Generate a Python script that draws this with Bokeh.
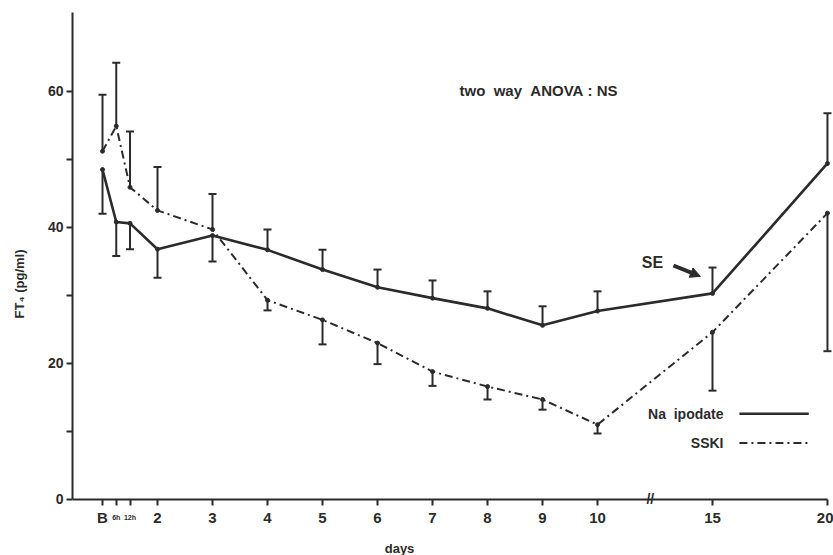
from bokeh.plotting import figure
from bokeh.models import FixedTicker, Label, Arrow, NormalHead, Range1d
from bokeh.embed import file_html
from bokeh.resources import INLINE

# ---- data ----
day_labels = ["B", "6h", "12h", "2", "3", "4", "5", "6", "7", "8", "9", "10", "15", "20"]
day_values = [1, 1.25, 1.5, 2, 3, 4, 5, 6, 7, 8, 9, 10, 15, 20]

na_mean = [48.5, 40.8, 40.6, 36.8, 38.8, 36.7, 33.8, 31.2, 29.6, 28.1, 25.6, 27.7, 30.3, 49.4]
na_se = [6.5, 5.0, 3.8, 4.2, 3.8, 3.0, 2.9, 2.6, 2.6, 2.5, 2.8, 2.9, 3.8, 7.4]
na_dir = [-1, -1, -1, -1, -1, 1, 1, 1, 1, 1, 1, 1, 1, 1]

sski_mean = [51.2, 54.9, 45.9, 42.5, 39.7, 29.3, 26.4, 23.0, 18.8, 16.6, 14.7, 11.0, 24.6, 42.1]
sski_se = [8.3, 9.3, 8.2, 6.4, 5.2, 1.5, 3.6, 3.1, 2.1, 1.9, 1.5, 1.3, 8.6, 20.3]
sski_dir = [1, 1, 1, 1, 1, -1, -1, -1, -1, -1, -1, -1, -1, -1]

y_ticks = [0, 20, 40, 60]
y_minor = [10, 30, 50]
small_labels = ["6h", "12h"]

# broken axis: days after 10 are compressed
BREAK = 10
COMPRESS = 0.418


def xpos(d):
    return d if d <= BREAK else round(BREAK + (d - BREAK) * COMPRESS, 3)


x = [xpos(d) for d in day_values]

INK = "#2b2b2b"
FONT = "Liberation Sans"

Y_TOP = 71.6
Y_BOTTOM = -8.24
X_START = 0.4545
X_END = 14.29

p = figure(width=833, height=555, output_backend="svg", toolbar_location=None,
           x_range=Range1d(X_START, X_END), y_range=Range1d(Y_BOTTOM, Y_TOP),
           min_border_left=72, min_border_right=0, min_border_top=12,
           min_border_bottom=0)
p.outline_line_color = None
p.grid.visible = False

# lines
p.line(x, na_mean, line_color=INK, line_width=2.6)
p.line(x, sski_mean, line_color=INK, line_width=2, line_dash="8 4 2 4")

# error bars (one-sided)
for mean, se, dr in ((na_mean, na_se, na_dir), (sski_mean, sski_se, sski_dir)):
    ends = [m + d * s for m, s, d in zip(mean, se, dr)]
    p.segment(x0=x, y0=mean, x1=x, y1=ends, line_color=INK, line_width=2)
    p.scatter(x, ends, marker="dash", size=8, line_color=INK, line_width=2)
    p.scatter(x, mean, size=4, color=INK)

# axes
p.xaxis.fixed_location = 0
p.xaxis.bounds = (X_START, x[-1])
p.yaxis.bounds = (0, Y_TOP)
p.xaxis.ticker = FixedTicker(ticks=x)
p.xaxis.major_label_overrides = {xv: ("" if lab in small_labels else lab)
                                 for xv, lab in zip(x, day_labels)}
p.yaxis.ticker = FixedTicker(ticks=y_ticks, minor_ticks=y_minor)

for ax in (p.xaxis, p.yaxis):
    ax.axis_line_color = INK
    ax.axis_line_width = 2
    ax.major_tick_line_color = INK
    ax.major_tick_line_width = 2
    ax.major_tick_out = 6
    ax.major_tick_in = 0
    ax.minor_tick_line_color = INK
    ax.minor_tick_line_width = 2
    ax.minor_tick_out = 6
    ax.minor_tick_in = 0
    ax.major_label_text_font = FONT
    ax.major_label_text_font_style = "bold"
    ax.major_label_text_color = INK
    ax.axis_label_text_font = FONT
    ax.axis_label_text_font_style = "bold"
    ax.axis_label_text_color = INK

p.xaxis.major_label_text_font_size = "15px"
p.xaxis.major_label_standoff = 4

p.yaxis.major_label_text_font_size = "14px"
p.yaxis.major_label_standoff = 3
p.yaxis.axis_label = "FT₄ (pg/ml)"
p.yaxis.axis_label_text_font_size = "13px"
p.yaxis.axis_label_standoff = 18

# x-axis title
p.add_layout(Label(x=6.4, y=-7.2, text="days", text_font=FONT, text_font_style="bold",
                   text_font_size="13px", text_color=INK,
                   text_align="center", text_baseline="middle"))

# small hour labels under the axis
for lab, xv in zip(day_labels, x):
    if lab in small_labels:
        p.add_layout(Label(x=xv, y=-2.6, text=lab, text_font=FONT, text_font_style="bold",
                           text_font_size="7px", text_color=INK,
                           text_align="center", text_baseline="middle"))

# axis break mark
p.add_layout(Label(x=10.96, y=0, text="//", text_font=FONT, text_font_style="bold",
                   text_font_size="14px", text_color=INK,
                   text_align="center", text_baseline="middle"))

# annotations
p.add_layout(Label(x=7.49, y=60.1, text="two\u00a0\u00a0way\u00a0\u00a0ANOVA\u00a0:\u00a0NS",
                   text_font=FONT, text_font_style="bold", text_font_size="15px",
                   text_color=INK, text_align="left", text_baseline="middle"))
p.add_layout(Label(x=11.0, y=34.9, text="SE", text_font=FONT, text_font_style="bold",
                   text_font_size="16px", text_color=INK,
                   text_align="center", text_baseline="middle"))
p.add_layout(Arrow(x_start=11.38, y_start=34.4, x_end=11.87, y_end=32.8,
                   line_color=INK, line_width=4,
                   end=NormalHead(size=10, fill_color=INK, line_color=INK)))

# legend
p.add_layout(Label(x=12.29, y=12.6, text="Na\u00a0\u00a0ipodate", text_font=FONT,
                   text_font_style="bold", text_font_size="14px", text_color=INK,
                   text_align="right", text_baseline="middle"))
p.add_layout(Label(x=12.29, y=8.3, text="SSKI", text_font=FONT,
                   text_font_style="bold", text_font_size="14px", text_color=INK,
                   text_align="right", text_baseline="middle"))
p.add_layout(Arrow(x_start=12.58, y_start=12.6, x_end=13.84, y_end=12.6, end=None,
                   line_color=INK, line_width=2.6))
p.add_layout(Arrow(x_start=12.58, y_start=8.3, x_end=13.84, y_end=8.3, end=None,
                   line_color=INK, line_width=2, line_dash="8 4 2 4"))

open("out.html", "w").write(file_html(p, INLINE))
